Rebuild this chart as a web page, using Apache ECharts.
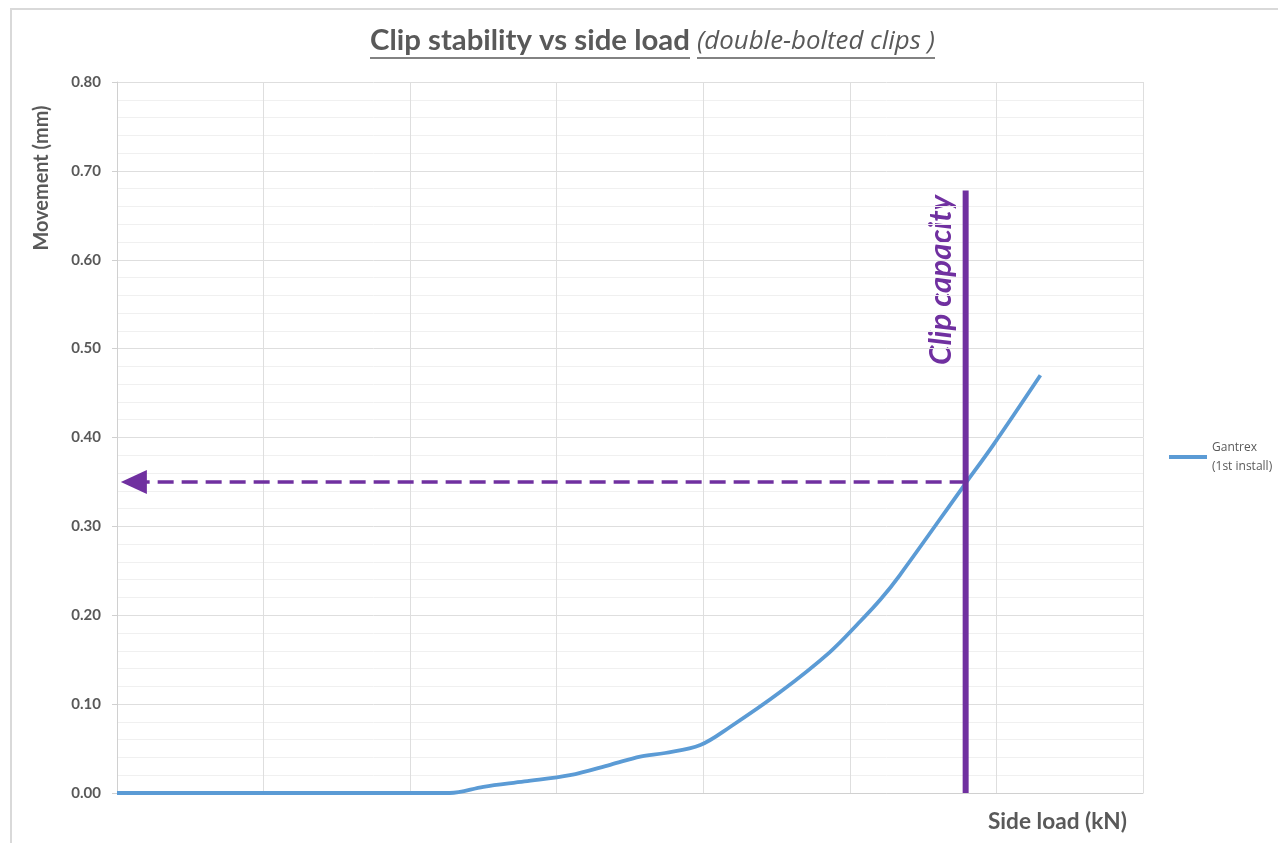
<!DOCTYPE html>
<html>
<head>
<meta charset="utf-8">
<script src="https://cdn.jsdelivr.net/npm/echarts@6/dist/echarts.min.js"></script>
<style>html,body{margin:0;padding:0;background:#fff;}#c{width:1278px;height:843px;}</style>
</head>
<body>
<div id="c"></div>
<script>
// Side load (arbitrary units, no tick labels on the original) vs movement (mm)
var sideLoad = [0, 0.5, 1.0, 1.5, 2.0, 2.27, 2.5, 2.78, 3.09, 3.37, 3.57, 3.74, 3.98, 4.18, 4.52, 4.86, 5.07, 5.21, 5.34, 5.77, 5.98, 6.30];
var movement = [0, 0, 0, 0, 0, 0, 0.007, 0.013, 0.020, 0.032, 0.041, 0.045, 0.054, 0.074, 0.113, 0.158, 0.193, 0.218, 0.245, 0.344, 0.392, 0.470];
var yTicks = ['0.00','0.10','0.20','0.30','0.40','0.50','0.60','0.70','0.80'];
var capacityLoad = 5.79;
var capacityTop = 0.678;
var capacityMovement = 0.35;
var arrowHeadLoad = 0.115;
var seriesName = 'Gantrex\n(1st install)';
var titleMain = 'Clip stability vs side load';
var titleSub = '(double-bolted clips )';

var FONT = 'Lato';
var GREY = '#595959';
var PURPLE = '#7030a0';

var mctx = document.createElement('canvas').getContext('2d');
function fitSize(text, style, weight, family, target) {
  mctx.font = style + ' ' + weight + ' 100px "' + family + '"';
  var w = mctx.measureText(text).width;
  return 100 * target / w;
}
var sMain = fitSize(titleMain, 'normal', 'bold', FONT, 320);
var sSub = fitSize(titleSub, 'italic', 'normal', 'Open Sans', 238);
var sYName = fitSize('Movement (mm)', 'normal', 'bold', FONT, 145);
var sXName = fitSize('Side load (kN)', 'normal', 'bold', FONT, 139);
var sCap = fitSize('Clip capacity', 'italic', 'bold', FONT, 170);

var chart = echarts.init(document.getElementById('c'));

var opt = {
  animation: false,
  backgroundColor: '#fff',
  grid: {left: 117, top: 82, right: 135, bottom: 50, containLabel: false},
  legend: {
    left: 1164, top: 433, orient: 'vertical',
    itemWidth: 38, itemHeight: 4, icon: 'rect', itemGap: 4,
    textStyle: {fontFamily: 'Open Sans', fontSize: 12, color: GREY, lineHeight: 19},
    data: [seriesName]
  },
  xAxis: {
    type: 'value', min: 0, max: 7, interval: 1,
    axisLabel: {show: false}, axisTick: {show: false},
    axisLine: {show: true, lineStyle: {color: '#d0d0d0', width: 1}},
    splitLine: {show: true, lineStyle: {color: '#dedede', width: 1}}
  },
  yAxis: {
    type: 'value', min: 0, max: 0.8, interval: 0.1,
    axisLabel: {
      formatter: function (v) { return yTicks[Math.round(v * 10)]; },
      fontFamily: FONT, fontWeight: 'bold', fontSize: 15, color: GREY, margin: 16
    },
    axisTick: {show: true, length: 5, lineStyle: {color: '#d0d0d0'}},
    axisLine: {show: true, lineStyle: {color: '#d0d0d0'}},
    splitLine: {show: true, lineStyle: {color: '#dedede'}},
    minorTick: {show: false, splitNumber: 5},
    minorSplitLine: {show: true, lineStyle: {color: '#f0f0f0'}}
  },
  series: [
    {
      name: seriesName, type: 'line', smooth: 0.35, showSymbol: false,
      data: sideLoad.map(function (x, i) { return [x, movement[i]]; }),
      lineStyle: {color: '#5b9bd5', width: 3.8}, itemStyle: {color: '#5b9bd5'},
      z: 3
    },
    {
      name: 'capacity', type: 'line', showSymbol: false, silent: true,
      data: [[capacityLoad, 0], [capacityLoad, capacityTop]],
      lineStyle: {color: PURPLE, width: 6}, z: 4
    },
    {
      name: 'arrow', type: 'line', showSymbol: false, silent: true, data: [],
      markLine: {
        silent: true, animation: false,
        symbol: ['none', 'triangle'], symbolSize: [24, 26],
        label: {show: false},
        lineStyle: {color: PURPLE, width: 3.5, type: [16, 8]},
        itemStyle: {color: PURPLE},
        data: [[{coord: [capacityLoad, capacityMovement]}, {coord: [arrowHeadLoad, capacityMovement]}]]
      },
      z: 5
    }
  ],
  graphic: [
    {type: 'rect', shape: {x: 11, y: 9, width: 1400, height: 1000}, style: {fill: 'none', stroke: '#d9d9d9', lineWidth: 2}, silent: true},
    {type: 'text', x: 370, y: 55,
      style: {text: titleMain, fontFamily: FONT, fontWeight: 'bold', fontSize: sMain, fill: GREY, align: 'left', verticalAlign: 'bottom'}},
    {type: 'text', x: 697, y: 55,
      style: {text: titleSub, fontFamily: 'Open Sans', fontStyle: 'italic', fontSize: sSub, fill: GREY, align: 'left', verticalAlign: 'bottom'}},
    {type: 'line', shape: {x1: 370, y1: 58, x2: 690, y2: 58}, style: {stroke: GREY, lineWidth: 1.5}},
    {type: 'line', shape: {x1: 697, y1: 58, x2: 935, y2: 58}, style: {stroke: GREY, lineWidth: 1.5}},
    {type: 'text', x: 42, y: 178, rotation: Math.PI / 2,
      style: {text: 'Movement (mm)', fontFamily: FONT, fontWeight: 'bold', fontSize: sYName, fill: GREY, align: 'center', verticalAlign: 'middle'}},
    {type: 'text', x: 988, y: 822,
      style: {text: 'Side load (kN)', fontFamily: FONT, fontWeight: 'bold', fontSize: sXName, fill: GREY, align: 'left', verticalAlign: 'middle'}},
    {type: 'text', x: 941, y: 280, rotation: Math.PI / 2,
      style: {text: 'Clip capacity', fontFamily: FONT, fontWeight: 'bold', fontStyle: 'italic', fontSize: sCap, fill: PURPLE, align: 'center', verticalAlign: 'middle'}}
  ]
};
chart.setOption(opt);
</script>
</body>
</html>
